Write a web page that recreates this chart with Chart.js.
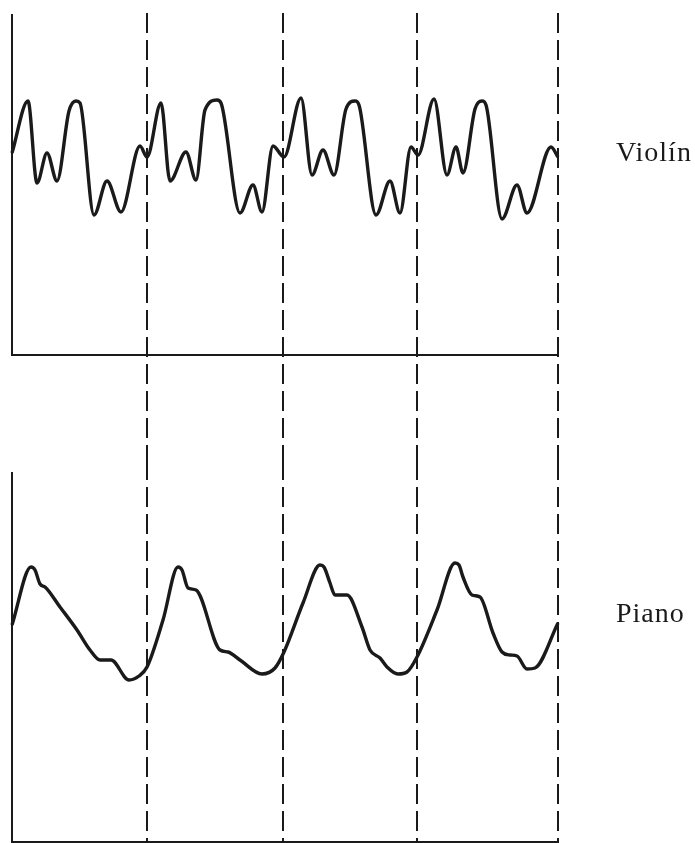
<!DOCTYPE html>
<html>
<head>
<meta charset="utf-8">
<script src="https://cdn.jsdelivr.net/npm/chart.js@4"></script>
<style>
  html, body { margin: 0; padding: 0; background: #fff; }
  body { width: 695px; height: 843px; position: relative; overflow: hidden; }
  canvas { position: absolute; left: 0; }
  #cv { top: 0; }
  #cp { top: 460px; }
  .lbl { position: absolute; left: 616px; font-family: "Liberation Serif", "DejaVu Serif", serif; font-size: 28px; line-height: 28px; letter-spacing: 1px; color: #1a1a1a; white-space: nowrap; }
</style>
</head>
<body>
<canvas id="cv" width="695" height="460"></canvas>
<canvas id="cp" width="695" height="383"></canvas>
<div class="lbl" style="top:138px">Violín</div>
<div class="lbl" style="top:599px">Piano</div>
<script>
// time axis (arbitrary units), four periods marked by dashed lines
const periodMarks = [135, 271, 405, 546];

// Violin waveform (time, amplitude)
const violinT = [0,16,25,35,45,57,64,68,82,95,109,128,135,149,158,174,184,193,205,209,228,241,250,261,272,289,300,311,322,334,343,347,364,378,388,399,406,422,435,444,451,463,470,474,490,505,515,539,546];
const violinV = [202,254,172,202,174,244,254,252,140,174,143,209,198,252,174,203,175,245,255,252,142,170,143,209,198,257,180,205,180,246,254,250,140,174,142,208,200,256,180,208,182,246,254,250,136,170,142,208,198];

// Piano waveform (time, amplitude)
const pianoT = [0,19,23,28,33,48,65,78,88,99,117,127,135,151,166,170,176,184,208,216,228,250,263,272,291,308,312,318,323,335,350,358,368,375,386,395,405,425,443,447,451,460,468,481,490,498,505,515,523,546];
const pianoV = [217,275,272,258,255,235,212,192,182,182,162,166,175,222,275,272,254,252,192,190,182,168,174,190,239,277,275,259,247,247,215,192,184,175,168,170,185,232,279,277,265,247,245,209,190,187,186,173,174,219];

const INK = '#1a1a1a';

function pts(t, v) { return t.map((x, i) => ({ x: x, y: v[i] })); }

const dashPlugin = (topY) => ({
  id: 'periodDashes',
  afterDraw(chart) {
    const ctx = chart.ctx, xs = chart.scales.x;
    ctx.save();
    ctx.strokeStyle = INK;
    ctx.lineWidth = 2;
    ctx.setLineDash([20, 7]);
    periodMarks.forEach(m => {
      const px = Math.round(xs.getPixelForValue(m));
      ctx.beginPath();
      ctx.moveTo(px, topY);
      ctx.lineTo(px, chart.height);
      ctx.stroke();
    });
    ctx.restore();
  }
});

function makeChart(id, t, v, yMax, pad, topY) {
  return new Chart(document.getElementById(id), {
    type: 'line',
    data: { datasets: [{
      data: pts(t, v),
      borderColor: INK,
      borderWidth: 3.4,
      pointRadius: 0,
      cubicInterpolationMode: 'monotone',
      fill: false,
      clip: 4
    }]},
    options: {
      responsive: false,
      animation: false,
      devicePixelRatio: 1,
      layout: { padding: pad },
      plugins: { legend: { display: false }, tooltip: { enabled: false }, title: { display: false } },
      scales: {
        x: {
          type: 'linear', min: 0, max: 546,
          grid: { display: false, drawTicks: false },
          ticks: { display: false },
          border: { display: true, color: INK, width: 2 },
          afterFit: s => { s.height = 0; }
        },
        y: {
          min: 0, max: yMax,
          grid: { display: false, drawTicks: false },
          ticks: { display: false },
          border: { display: true, color: INK, width: 2 },
          afterFit: s => { s.width = 0; }
        }
      }
    },
    plugins: [dashPlugin(topY)]
  });
}

makeChart('cv', violinT, violinV, 340, { left: 12, top: 15, right: 137, bottom: 105 }, 13);
makeChart('cp', pianoT, pianoV, 369, { left: 12, top: 13, right: 137, bottom: 1 }, 0);
</script>
</body>
</html>
